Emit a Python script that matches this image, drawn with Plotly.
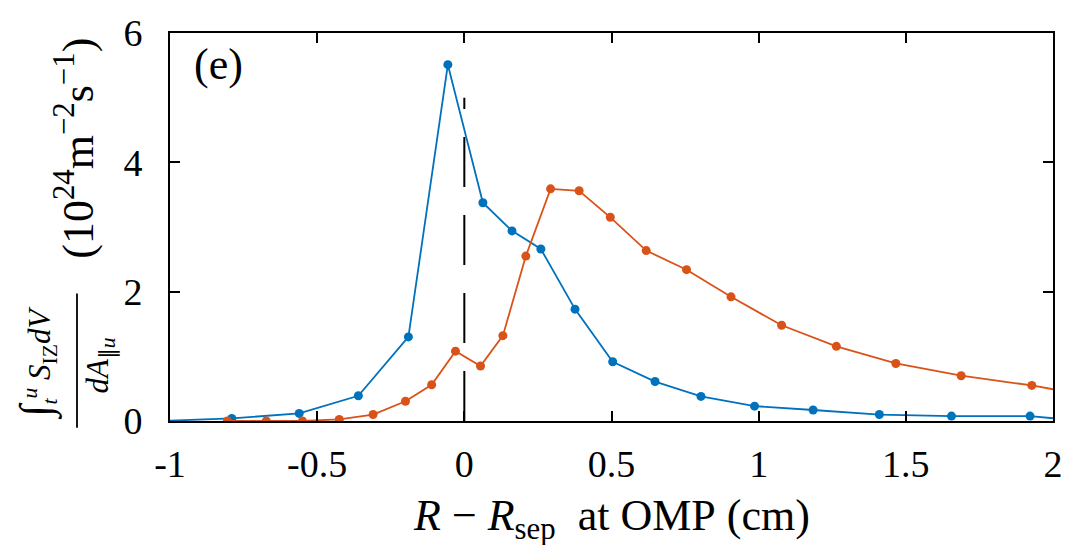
import plotly.graph_objects as go

# ---- data ----
blue_x = [-1.03, -0.79, -0.561, -0.36, -0.19, -0.056, 0.063, 0.162, 0.26, 0.376, 0.504, 0.648, 0.804, 0.986, 1.185, 1.41, 1.655, 1.922, 2.1]
blue_y = [0.0, 0.04, 0.117, 0.39, 1.30, 5.51, 3.375, 2.94, 2.66, 1.73, 0.916, 0.61, 0.38, 0.23, 0.17, 0.10, 0.076, 0.076, 0.0]
orange_x = [-0.805, -0.673, -0.55, -0.425, -0.31, -0.20, -0.111, -0.03, 0.055, 0.131, 0.209, 0.293, 0.39, 0.496, 0.618, 0.755, 0.906, 1.078, 1.264, 1.466, 1.688, 1.928, 2.17]
orange_y = [0.0, 0.0, 0.0, 0.025, 0.10, 0.305, 0.56, 1.08, 0.85, 1.32, 2.55, 3.59, 3.56, 3.15, 2.635, 2.34, 1.92, 1.48, 1.155, 0.89, 0.70, 0.55, 0.35]
sep_x = [0, 0]
sep_y = [0, 5]
x_ticks = [-1, -0.5, 0, 0.5, 1, 1.5, 2]
x_ticklabels = ["-1", "-0.5", "0", "0.5", "1", "1.5", "2"]
y_ticks = [0, 2, 4, 6]

BLUE = "#0072BD"
ORANGE = "#D95319"
FONT = "Liberation Serif"

W, H = 1075, 545
ML, MR, MT, MB = 170, 22, 22, 124
PW, PH = W - ML - MR, H - MT - MB


def px(xp):
    return (xp - ML) / PW


def py(yp):
    return (H - MB - yp) / PH


fig = go.Figure()
fig.add_trace(go.Scatter(x=sep_x, y=sep_y, mode="lines",
                         line=dict(color="black", width=2, dash="50px,28px"),
                         showlegend=False, hoverinfo="skip"))
fig.add_trace(go.Scatter(x=blue_x, y=blue_y, mode="lines+markers",
                         line=dict(color=BLUE, width=1.8),
                         marker=dict(color=BLUE, size=9), showlegend=False))
fig.add_trace(go.Scatter(x=orange_x, y=orange_y, mode="lines+markers",
                         line=dict(color=ORANGE, width=1.8),
                         marker=dict(color=ORANGE, size=9), showlegend=False))

axis_common = dict(showgrid=False, zeroline=False, showline=True, linecolor="black",
                   linewidth=1.8, mirror="ticks", ticks="inside", ticklen=10,
                   tickwidth=1.8, tickcolor="black",
                   tickfont=dict(family=FONT, size=38, color="black"))

fig.update_xaxes(range=[-1, 2], tickvals=x_ticks, ticktext=x_ticklabels,
                 ticklabelstandoff=8, **axis_common)
fig.update_yaxes(range=[0, 6], tickvals=y_ticks, ticklabelstandoff=18, **axis_common)

annos = [
    dict(text="(e)", x=px(218), y=py(54), font=dict(size=44)),
    dict(text="<i>R</i>&nbsp;−&nbsp;<i>R</i><sub>sep</sub>&nbsp;&nbsp;at&nbsp;OMP&nbsp;(cm)",
         x=px(611), y=py(521), font=dict(size=44)),
    dict(text="(10<sup>24</sup>m<sup>−2</sup>s<sup>−1</sup>)", x=px(75), y=py(141),
         textangle=-90, font=dict(size=44)),
    dict(text="<span style='font-size:44px'>∫</span><sub><i>t</i></sub><sup><i>u</i></sup> "
              "<i>S</i><sub>IZ</sub><i>dV</i>",
         x=px(37), y=py(362), textangle=-90, font=dict(size=31)),
    dict(text="<i>dA</i><sub>∥<i>u</i></sub>", x=px(100), y=py(364), textangle=-90,
         font=dict(size=31)),
]
for a in annos:
    fig.add_annotation(xref="paper", yref="paper", showarrow=False,
                       xanchor="center", yanchor="middle",
                       font_family=FONT, font_color="black", **a)

fig.add_shape(type="line", xref="paper", yref="paper", x0=px(77), x1=px(77),
              y0=py(290), y1=py(428), line=dict(color="black", width=1.8))

fig.update_layout(width=W, height=H, margin=dict(l=ML, r=MR, t=MT, b=MB),
                  plot_bgcolor="white", paper_bgcolor="white",
                  font=dict(family=FONT, color="black"))

fig.write_html("out.html")
